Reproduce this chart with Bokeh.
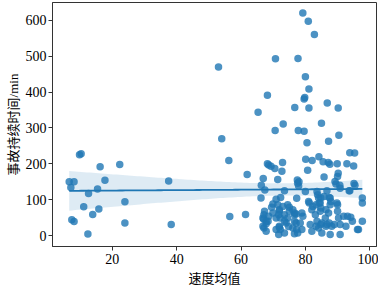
import numpy as np
from bokeh.plotting import figure
from bokeh.models import FixedTicker
from bokeh.embed import file_html
from bokeh.resources import INLINE

speed = [9.8, 10.3, 16.2, 22.3, 6.6, 8.1, 7.1, 17.7, 12.6, 15.4, 37.5, 23.9, 11.1, 15.8, 13.9, 7.4, 8.1, 23.9, 38.3, 12.4, 53.0, 54.0,
         79.2, 80.9, 82.8, 70.7, 77.7, 80.0, 81.1, 68.2, 79.6, 79.8, 86.8, 90.2, 76.7, 81.1, 65.3, 73.1, 85.0, 70.6, 77.8, 79.6, 90.4, 80.5, 87.2,
         56.2, 68.2, 68.6, 69.3, 70.5, 72.7, 72.9, 80.1, 82.1, 84.2, 85.5, 87.1, 87.6, 89.9, 92.9, 93.8, 95.3, 95.0, 80.7, 61.9, 90.2, 90.0, 85.8, 77.5, 71.4, 66.9,
         66.3, 77.9, 77.6, 78.0, 89.2, 89.5, 90.7, 95.1, 95.4, 67.4, 73.5, 93.6, 80.0, 83.6, 86.7, 90.8, 97.7, 97.7,
         66.2, 70.9, 72.3, 77.3, 81.0, 84.1, 84.6, 87.7, 87.7, 89.8, 83.8, 84.8, 85.8, 87.4, 81.2, 82.3, 83.3, 84.3, 84.8, 87.9, 90.0, 90.0,
         71.4, 74.5, 76.1, 69.9, 69.5, 73.0, 75.0, 67.3, 69.9, 71.9, 73.5, 76.6, 71.9, 71.7, 72.2, 75.0, 76.6, 67.1, 68.6, 67.0, 66.8, 67.8, 70.9, 73.5, 74.5, 76.6,
         67.8, 68.4, 67.1, 71.9, 72.2, 74.0, 74.8, 76.1, 77.1, 77.3, 67.8, 71.7, 76.6, 66.8, 70.9, 71.9, 73.5, 77.6, 56.5, 61.4,
         78.9, 82.0, 83.1, 84.6, 86.2, 87.2, 90.3, 91.9, 78.4, 81.5, 83.6, 85.1, 84.1, 86.7, 88.2, 90.8, 78.9, 82.0, 85.1, 87.7, 90.8,
         86.4, 77.1, 79.2, 93.1, 94.1, 94.6, 83.3, 84.8, 86.4, 87.4, 89.0, 92.6, 96.2, 97.7, 93.8, 96.5]
duration = [225, 228, 192, 198, 150, 150, 134, 154, 117, 130, 152, 94, 80, 74, 59, 44, 39, 35, 31, 4, 470, 270,
            621, 598, 561, 493, 494, 443, 409, 391, 381, 385, 370, 356, 357, 356, 344, 311, 313, 293, 293, 291, 280, 259, 263,
            209, 200, 197, 193, 187, 179, 204, 213, 209, 220, 206, 204, 199, 200, 200, 231, 230, 194, 182, 170, 174, 165, 163, 155, 156, 159,
            140, 138, 146, 150, 151, 144, 140, 145, 140, 127, 125, 125, 123, 123, 125, 132, 105, 91,
            105, 101, 106, 104, 95, 105, 91, 105, 86, 91, 114, 105, 109, 106, 91, 81, 86, 91, 77, 95, 86, 68,
            86, 86, 72, 88, 79, 81, 79, 68, 63, 72, 58, 58, 68, 58, 49, 68, 63, 58, 54, 46, 49, 40, 49, 40, 49, 40,
            33, 40, 21, 23, 17, 35, 25, 21, 35, 17, 12, 3, 5, 26, 17, 26, 7, 7, 53, 59,
            63, 72, 58, 68, 49, 63, 49, 54, 35, 31, 40, 35, 21, 31, 26, 31, 17, 12, 7, 3, 3,
            72, 60, 54, 54, 51, 40, 26, 31, 26, 35, 31, 26, 17, 40, 125, 17]

xs = np.array(speed)
ys = np.array(duration)
n = len(xs)
b, a = np.polyfit(xs, ys, 1)
grid = np.linspace(xs.min(), xs.max(), 100)
fit = a + b * grid
resid = ys - (a + b * xs)
s = np.sqrt(np.sum(resid ** 2) / (n - 2))
sxx = np.sum((xs - xs.mean()) ** 2)
se = s * np.sqrt(1.0 / n + (grid - xs.mean()) ** 2 / sxx)
lo = fit - 1.97 * se
hi = fit + 1.97 * se

C0 = "#1f77b4"
num_font = "Liberation Serif"
lab_font = "Liberation Serif, Noto Sans CJK SC"

p = figure(width=378, height=288, output_backend="svg", toolbar_location=None,
           x_range=(1.4, 102.1), y_range=(-30.6, 650),
           min_border_left=52, min_border_right=2, min_border_top=2, min_border_bottom=41)
p.grid.visible = False
p.outline_line_color = "#333333"
p.outline_line_width = 1
p.background_fill_color = "white"

p.varea(x=grid, y1=lo, y2=hi, fill_color=C0, fill_alpha=0.15)
p.scatter(xs, ys, size=7.5, fill_color=C0, fill_alpha=0.8, line_color=C0, line_alpha=0.0)
p.line(grid, fit, line_color=C0, line_width=1.8)

p.xaxis.ticker = FixedTicker(ticks=[20, 40, 60, 80, 100])
p.yaxis.ticker = FixedTicker(ticks=[0, 100, 200, 300, 400, 500, 600])
for ax in (p.xaxis[0], p.yaxis[0]):
    ax.axis_line_color = "#333333"
    ax.major_tick_line_color = "#333333"
    ax.major_tick_out = 4
    ax.major_tick_in = 0
    ax.minor_tick_line_color = None
    ax.major_label_text_font = num_font
    ax.major_label_text_font_size = "14px"
    ax.major_label_text_color = "black"
    ax.axis_label_text_font = lab_font
    ax.axis_label_text_font_size = "13px"
    ax.axis_label_text_font_style = "normal"
    ax.axis_label_text_color = "black"
p.xaxis.axis_label = "速度均值"
p.yaxis.axis_label = "事故持续时间/min"
p.xaxis.major_label_standoff = 3
p.yaxis.major_label_standoff = 2
p.xaxis.axis_label_standoff = 4
p.yaxis.axis_label_standoff = 2

open("out.html", "w").write(file_html(p, INLINE))
